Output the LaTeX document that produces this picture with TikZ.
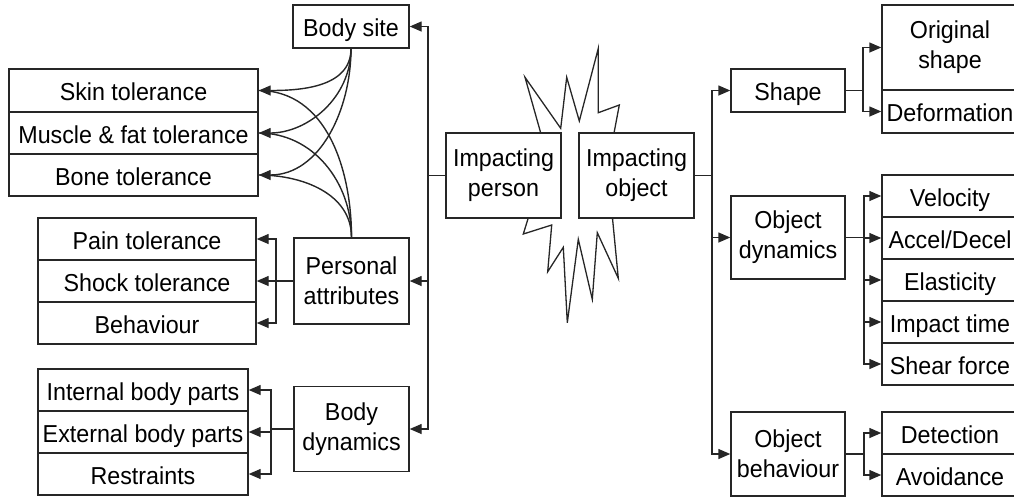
\documentclass[tikz,border=0pt]{standalone}
\usepackage{fontspec}
\setmainfont{Liberation Sans}[FakeStretch=0.95]
\usetikzlibrary{arrows.meta}
\begin{document}
\begin{tikzpicture}[x=1pt,y=-1pt,
  line width=1.4pt, draw=black!85,
  box/.style={draw=black!85, fill=white, inner sep=0pt, align=center,
    font=\fontsize{24.5}{30}\selectfont},
  one/.style={box, text height=20pt, text depth=0pt},
  arr/.style={-{Triangle[length=12pt,width=10pt]}},
]
\useasboundingbox (0,0) rectangle (1014,499);

% central burst behind the two impact boxes
\draw[fill=white, line width=1.3pt, line join=miter]
  (542.7,140) -- (525,77.3) -- (560.7,128.3) -- (566.7,77.3) -- (579.3,121)
  -- (598.3,48.3) -- (598.3,112.7) -- (619.3,105) -- (612.7,140)
  -- (611.7,210) -- (618.3,278.3) -- (597.3,232.7) -- (592.3,299.3)
  -- (578.3,239.3) -- (567.3,322.7) -- (563.3,247.3) -- (547.7,271.7)
  -- (551.7,225) -- (523.3,234) -- (530.7,210) -- cycle;

% centre
\node[box, minimum width=115, minimum height=85] (person) at (503.5,175.5) {Impacting\\person};
\node[box, minimum width=115, minimum height=85] (object) at (636.5,175.5) {Impacting\\object};

% left: person side
\node[one, minimum width=116, minimum height=43] (bodysite) at (351,26.5) {Body site};
\node[box, minimum width=115, minimum height=86] (persattr) at (351.5,281) {Personal\\attributes};
\node[box, minimum width=115, minimum height=85] (bodydyn) at (351.5,429) {Body\\dynamics};

\node[one, minimum width=249, minimum height=43] (skin) at (133.5,90.5) {Skin tolerance};
\node[one, minimum width=249, minimum height=42] (muscle) at (133.5,133) {Muscle \& fat tolerance};
\node[one, minimum width=249, minimum height=42] (bone) at (133.5,175) {Bone tolerance};

\node[one, minimum width=218, minimum height=42] (pain) at (147,239) {Pain tolerance};
\node[one, minimum width=218, minimum height=42] (shock) at (147,281) {Shock tolerance};
\node[one, minimum width=218, minimum height=42] (behav) at (147,323) {Behaviour};

\node[one, minimum width=210, minimum height=42] (internal) at (143,390) {Internal body parts};
\node[one, minimum width=210, minimum height=42] (external) at (143,432) {External body parts};
\node[one, minimum width=210, minimum height=42] (restr) at (143,474) {Restraints};

% right: object side
\node[one, minimum width=114, minimum height=43] (shape) at (788,90.5) {Shape};
\node[box, minimum width=114, minimum height=83] (objdyn) at (788,237.5) {Object\\dynamics};
\node[box, minimum width=114, minimum height=84] (objbeh) at (788,454) {Object\\behaviour};

\node[box, minimum width=136, minimum height=85] (orig) at (950,47.5) {Original\\shape};
\node[one, minimum width=136, minimum height=43] (deform) at (950,111.5) {Deformation};

\node[one, minimum width=136, minimum height=42] (veloc) at (950,196) {Velocity};
\node[one, minimum width=136, minimum height=42] (accel) at (950,238) {Accel/Decel};
\node[one, minimum width=136, minimum height=42] (elast) at (950,280) {Elasticity};
\node[one, minimum width=136, minimum height=42] (imptime) at (950,322) {Impact time};
\node[one, minimum width=136, minimum height=42] (shear) at (950,364) {Shear force};

\node[one, minimum width=136, minimum height=42] (detect) at (950,433) {Detection};
\node[one, minimum width=136, minimum height=42] (avoid) at (950,475) {Avoidance};

% trunk lines
\coordinate (lt) at (428,175.5);
\coordinate (rt) at (712,175.5);
\draw (person.west) -- (lt);
\draw[arr] (lt) |- (bodysite.east);
\draw[arr] (lt) |- (persattr.east);
\draw[arr] (lt) |- (bodydyn.east);
\draw (object.east) -- (rt);
\draw[arr] (rt) |- (shape.west);
\draw[arr] (rt) |- (objdyn.west);
\draw[arr] (rt) |- (objbeh.west);

% branches on the left
\coordinate (pb) at (276,281);
\draw (persattr.west) -- (pb);
\draw[arr] (pb) |- (pain.east);
\draw[arr] (pb) -- (shock.east);
\draw[arr] (pb) |- (behav.east);

\coordinate (db) at (271,432);
\draw (bodydyn.west) -| (db);
\draw[arr] (db) |- (internal.east);
\draw[arr] (db) -- (external.east);
\draw[arr] (db) |- (restr.east);

% tolerance links
\draw[arr] (bodysite.south) to[out=-90,in=0] (skin.east);
\draw[arr] (bodysite.south) to[out=-90,in=0] (muscle.east);
\draw[arr] (bodysite.south) to[out=-90,in=0] (bone.east);
\draw (persattr.north) to[out=90,in=0] (skin.east);
\draw (persattr.north) to[out=90,in=0] (muscle.east);
\draw (persattr.north) to[out=90,in=0] (bone.east);

% branches on the right
\coordinate (sb) at (863,90.5);
\draw (shape.east) -- (sb);
\draw[arr] (sb) |- (orig.west);
\draw[arr] (sb) |- (deform.west);

\coordinate (ob) at (864,237.5);
\draw (objdyn.east) -- (ob);
\draw[arr] (ob) |- (veloc.west);
\draw[arr] (ob) |- (accel.west);
\draw[arr] (ob) |- (elast.west);
\draw[arr] (ob) |- (imptime.west);
\draw[arr] (ob) |- (shear.west);

\coordinate (bb) at (864,454);
\draw (objbeh.east) -- (bb);
\draw[arr] (bb) |- (detect.west);
\draw[arr] (bb) |- (avoid.west);
\end{tikzpicture}
\end{document}
